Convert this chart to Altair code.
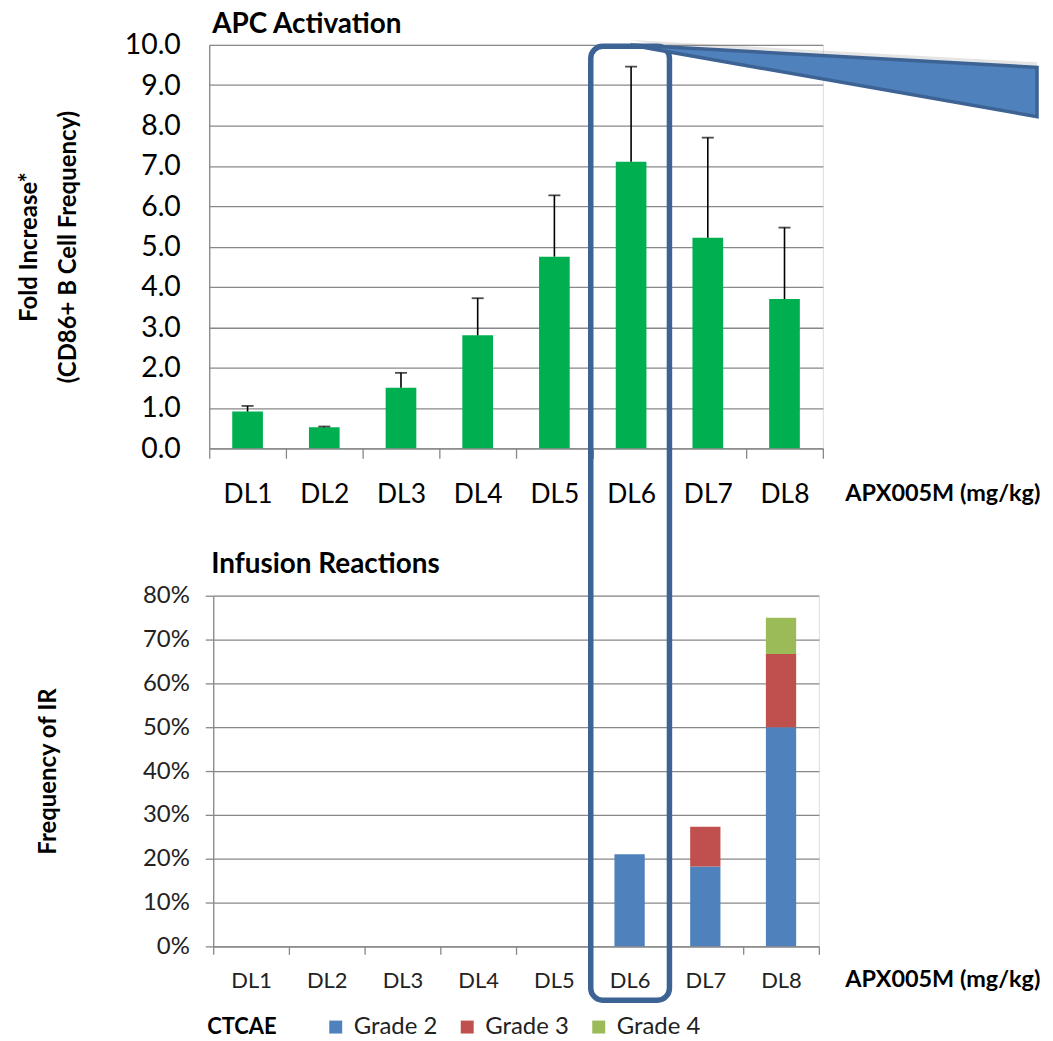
import altair as alt
import pandas as pd

FONT = "Lato"

# ---- data ----
dose_levels = ["DL1", "DL2", "DL3", "DL4", "DL5", "DL6", "DL7", "DL8"]
fold_increase = [0.91, 0.52, 1.50, 2.80, 4.75, 7.10, 5.22, 3.70]
fold_upper = [1.05, 0.54, 1.87, 3.72, 6.27, 9.46, 7.70, 5.47]

ir_dose = ["DL6", "DL7", "DL7", "DL8", "DL8", "DL8"]
ir_grade = ["Grade 2", "Grade 2", "Grade 3", "Grade 2", "Grade 3", "Grade 4"]
ir_freq = [0.21, 0.182, 0.091, 0.50, 0.167, 0.083]
grades = ["Grade 2", "Grade 3", "Grade 4"]
grade_colors = ["#4F81BD", "#C0504D", "#9BBB59"]

df_top = pd.DataFrame({"dl": dose_levels, "fold": fold_increase, "upper": fold_upper})
df_ir = pd.DataFrame({"dl": ir_dose, "grade": ir_grade, "freq": ir_freq})
df_ir["gorder"] = df_ir["grade"].map({g: i for i, g in enumerate(grades)})
one = pd.DataFrame({"k": [0]})

GRID = "#888888"

# ---- top panel ----
x_top = alt.X(
    "dl:N", sort=dose_levels,
    scale=alt.Scale(paddingInner=0, paddingOuter=0),
    axis=alt.Axis(
        title="APX005M (mg/kg)", titleX=638, titleY=45, titleAlign="left",
        titleBaseline="middle", titleFontSize=23.5, titleFontWeight="bold",
        titleColor="#000000", titleFont=FONT,
        labelAngle=0, labelFontSize=26.5, labelColor="#000000", labelFont=FONT,
        labelPadding=23, tickBand="extent", tickSize=10, tickColor=GRID,
        tickWidth=1.3, domainColor=GRID, domainWidth=1.3, grid=False,
    ),
)
y_top = alt.Y(
    "fold:Q", scale=alt.Scale(domain=[0, 10], nice=False),
    axis=alt.Axis(
        title=["Fold Increase*", "(CD86+ B Cell Frequency)"],
        titleFontSize=24, titleFontWeight="bold", titleColor="#000000",
        titleFont=FONT, titleLineHeight=39.5, titlePadding=44,
        values=[0, 1, 2, 3, 4, 5, 6, 7, 8, 9, 10], format=".1f",
        labelFontSize=28.5, labelColor="#000000", labelFont=FONT, labelPadding=29,
        ticks=False, tickSize=0, domainColor=GRID, domainWidth=1.3,
        grid=True, gridColor=GRID, gridWidth=1.3,
    ),
)
base_top = alt.Chart(df_top)
top_bars = base_top.mark_bar(color="#00B050", width=alt.RelativeBandSize(0.4)).encode(x=x_top, y=y_top)
top_err = base_top.mark_rule(color="#000000", strokeWidth=1.6).encode(
    x=alt.X("dl:N", sort=dose_levels), y="fold:Q", y2="upper:Q")
top_cap = base_top.mark_tick(color="#000000", thickness=1.8, size=12).encode(
    x=alt.X("dl:N", sort=dose_levels), y="upper:Q")

top = alt.layer(top_bars, top_err, top_cap).properties(
    width=616, height=405,
    title=alt.TitleParams("APC Activation", anchor="start", frame="group",
                          fontSize=28, fontWeight="bold", color="#000000",
                          font=FONT, offset=-8, dx=3),
)

# ---- bottom panel ----
OX, OY = 214, 596  # page position of the bottom plot origin (for decorations)
x_bot = alt.X(
    "dl:N", sort=dose_levels,
    scale=alt.Scale(domain=dose_levels, paddingInner=0, paddingOuter=0),
    axis=alt.Axis(
        title="APX005M (mg/kg)", titleX=848 - OX, titleY=33, titleAlign="left",
        titleBaseline="middle", titleFontSize=23.5, titleFontWeight="bold",
        titleColor="#000000", titleFont=FONT,
        labelAngle=0, labelFontSize=22, labelColor="#222222", labelFont=FONT,
        labelPadding=16, tickBand="extent", tickSize=8, tickColor=GRID,
        tickWidth=1.3, domainColor=GRID, domainWidth=1.3, grid=False,
    ),
)
y_bot = alt.Y(
    "freq:Q", stack="zero", scale=alt.Scale(domain=[0, 0.8], nice=False),
    axis=alt.Axis(
        title="Frequency of IR", titleFontSize=24, titleFontWeight="bold",
        titleColor="#000000", titleFont=FONT, titlePadding=82,
        values=[0, 0.1, 0.2, 0.3, 0.4, 0.5, 0.6, 0.7, 0.8], format=".0%",
        labelFontSize=24, labelColor="#222222", labelFont=FONT, labelPadding=16,
        tickSize=8, tickColor=GRID, tickWidth=1.3,
        domainColor=GRID, domainWidth=1.3,
        grid=True, gridColor=GRID, gridWidth=1.3,
    ),
)
bot_bars = alt.Chart(df_ir).mark_bar(width=alt.RelativeBandSize(0.4)).encode(
    x=x_bot, y=y_bot,
    color=alt.Color(
        "grade:N", scale=alt.Scale(domain=grades, range=grade_colors),
        legend=alt.Legend(
            title="CTCAE", orient="none", legendX=-2, legendY=974,
            direction="horizontal", titleOrient="left", titlePadding=47,
            titleFontSize=22, titleFontWeight="bold", titleColor="#000000",
            titleFont=FONT, labelFont=FONT, labelFontSize=24, labelColor="#222222",
            symbolType="square", symbolSize=169, symbolStrokeWidth=0,
            labelOffset=6, columnPadding=18,
        ),
    ),
    order=alt.Order("gorder:Q", sort="ascending"),
)

bot_title = alt.Chart(one).mark_text(
    text="Infusion Reactions", align="left", baseline="alphabetic",
    fontSize=28, fontWeight="bold", color="#000000", font=FONT,
).encode(x=alt.value(-2), y=alt.value(573 - OY))

# decorative highlight box and callout wedge
box = alt.Chart(one).mark_rect(
    filled=False, stroke="#3C6394", strokeWidth=5.5, cornerRadius=12
).encode(
    x=alt.value(593 - OX), x2=alt.value(672 - OX),
    y=alt.value(44.5 - OY), y2=alt.value(1002 - OY),
)
WEDGE = "M -1 -0.1805 L 1 -0.0707 L 1 0.172 L -0.81 -0.146 Z"
WS = 408  # wedge side in px
WX = 633 + WS / 2
shadow = alt.Chart(one).mark_point(
    shape=WEDGE, filled=True, fill="#7f7f7f", opacity=0.2, strokeWidth=0, size=WS * WS
).encode(x=alt.value(WX - OX), y=alt.value(75 - OY))
wedge = alt.Chart(one).mark_point(
    shape=WEDGE, filled=True, fill="#4F81BD", stroke="#3C6394", strokeWidth=3.5,
    opacity=1, size=WS * WS
).encode(x=alt.value(WX - OX), y=alt.value(80 - OY))

bottom = alt.layer(bot_bars, bot_title, box, shadow, wedge).properties(
    width=608, height=352,
)

chart = alt.vconcat(top, bottom, spacing=148, bounds="flush", center=True).properties(
    padding={"left": 8, "top": 0, "right": 0, "bottom": 0}
).configure_view(strokeWidth=0).configure(font=FONT)

chart.save("out.html", embed_options={"renderer": "svg", "actions": False})
